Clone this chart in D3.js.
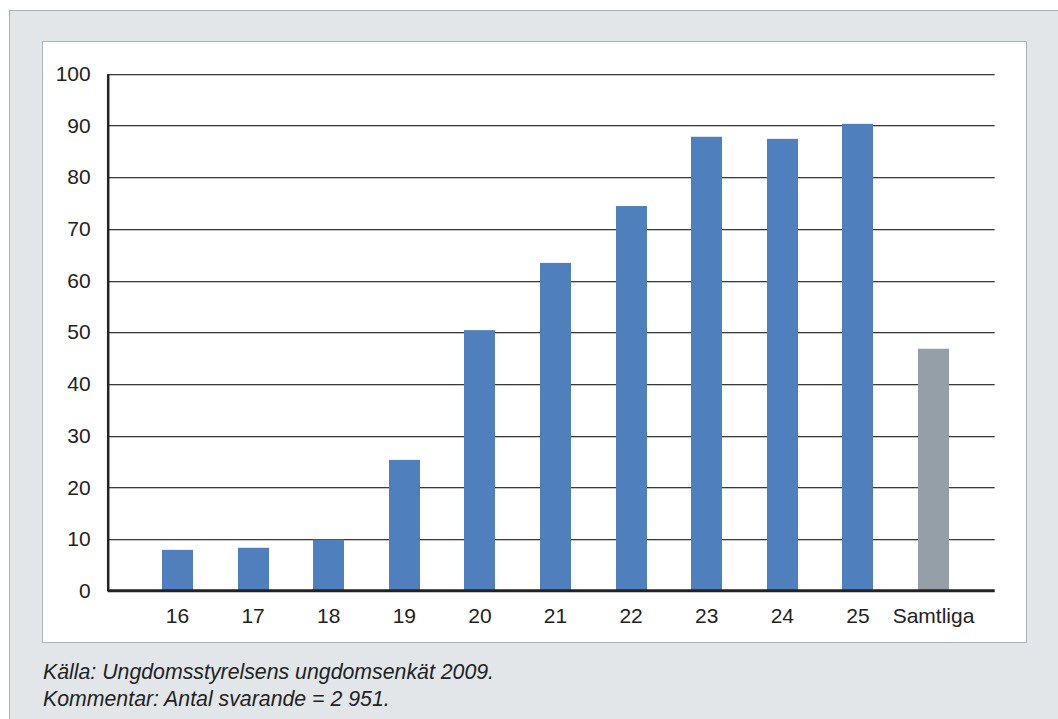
<!DOCTYPE html>
<html><head><meta charset="utf-8">
<script src="https://cdn.jsdelivr.net/npm/d3@7"></script>
<style>html,body{margin:0;padding:0;background:#fff;}svg{display:block;}</style>
</head><body>
<script>
const categories = ["16","17","18","19","20","21","22","23","24","25","Samtliga"];
const values = [7.9, 8.3, 9.9, 25.3, 50.4, 63.4, 74.4, 87.8, 87.4, 90.3, 46.8];
const yTicks = [0,10,20,30,40,50,60,70,80,90,100];
const notes = ["Källa: Ungdomsstyrelsens ungdomsenkät 2009.", "Kommentar: Antal svarande = 2 951."];

const W = 1058, H = 719;
const svg = d3.select("body").append("svg").attr("width", W).attr("height", H);
const font = "'Liberation Sans', Arial, sans-serif";

svg.append("rect").attr("x", 0).attr("y", 0).attr("width", W).attr("height", H).attr("fill", "#fff");
svg.append("rect").attr("x", 9.5).attr("y", 10.5).attr("width", W + 20).attr("height", H + 20)
  .attr("fill", "#e3e6e9").attr("stroke", "#a9b0b8").attr("stroke-width", 1);
svg.append("rect").attr("x", 42.5).attr("y", 41.5).attr("width", 984).attr("height", 601)
  .attr("fill", "#fff").attr("stroke", "#aab2bb").attr("stroke-width", 1);

const y = d3.scaleLinear().domain([0, 100]).range([590.7, 73.7]);
const x = d3.scaleBand().domain(categories).range([139.7, 971.3]).paddingInner(0.59).paddingOuter(0.295);
const axisX0 = 107.7, gridX1 = 994.7;

// gridlines
const grid = svg.append("g");
yTicks.filter(t => t > 0).forEach(t => {
  grid.append("line").attr("x1", axisX0).attr("x2", gridX1).attr("y1", Math.round(y(t)) + 1.5).attr("y2", Math.round(y(t)) + 1.5)
    .attr("stroke", "#c4c4c4").attr("stroke-width", 1);
  grid.append("line").attr("x1", axisX0).attr("x2", gridX1).attr("y1", Math.round(y(t)) + 0.5).attr("y2", Math.round(y(t)) + 0.5)
    .attr("stroke", "#3a3a3a").attr("stroke-width", 1);
});

// bars
svg.append("g").selectAll("rect").data(categories).join("rect")
  .attr("x", d => Math.round(x(d)))
  .attr("width", Math.round(x.bandwidth()))
  .attr("y", (d, i) => y(values[i]))
  .attr("height", (d, i) => y(0) - y(values[i]))
  .attr("fill", (d, i) => d === "Samtliga" ? "#959fa8" : "#4f7fbd");

// baseline
svg.append("line").attr("x1", axisX0).attr("x2", gridX1).attr("y1", y(0)).attr("y2", y(0))
  .attr("stroke", "#222").attr("stroke-width", 3);

// y axis
const yAxis = d3.axisLeft(y).tickValues(yTicks).tickSize(0).tickPadding(17);
const gy = svg.append("g").attr("transform", `translate(${axisX0},0)`).call(yAxis);
gy.select(".domain").attr("stroke", "#222").attr("stroke-width", 2.5);
gy.selectAll("text").attr("font-family", font).attr("font-size", 21).attr("fill", "#222");

// x axis
const xAxis = d3.axisBottom(x).tickSize(0).tickPadding(17);
const gx = svg.append("g").attr("transform", `translate(0,${y(0)})`).call(xAxis);
gx.select(".domain").remove();
gx.selectAll("text").attr("font-family", font).attr("font-size", 21).attr("fill", "#222");

// notes
svg.append("g").selectAll("text").data(notes).join("text")
  .attr("x", 43).attr("y", (d, i) => 679 + i * 27)
  .attr("font-family", font).attr("font-size", 21.3).attr("font-style", "italic").attr("fill", "#222")
  .text(d => d);
</script>
</body></html>
